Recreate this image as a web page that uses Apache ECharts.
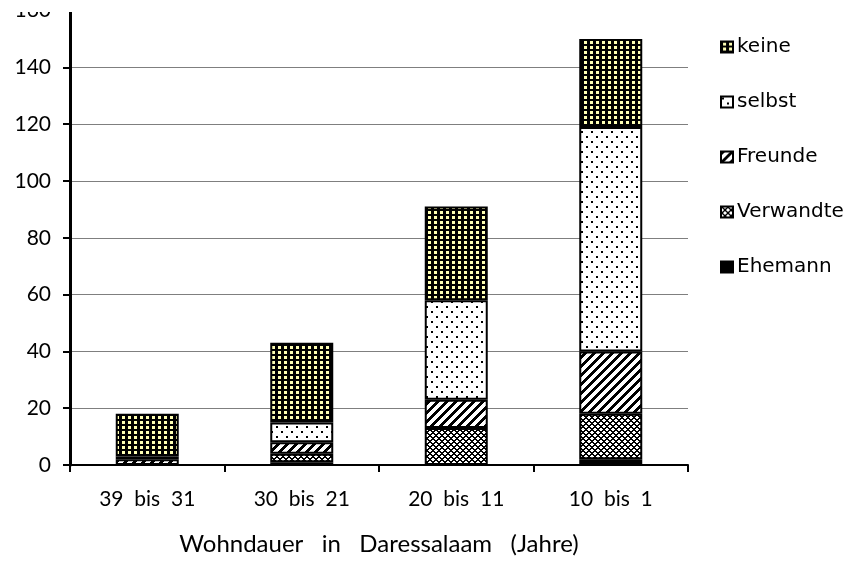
<!DOCTYPE html>
<html>
<head>
<meta charset="utf-8">
<script src="https://cdn.jsdelivr.net/npm/echarts@6/dist/echarts.min.js"></script>
<style>
  html, body { margin: 0; padding: 0; background: #fff; }
  #chart { width: 866px; height: 561px; }
</style>
</head>
<body>
<div id="chart"></div>
<script>
// Wohndauer-Klassen (x axis)
const categories = ['39  bis  31', '30  bis  21', '20  bis  11', '10  bis  1'];

// Stacked values per class, bottom to top
const ehemann   = [0, 1, 0, 2];
const verwandte = [0, 3, 13, 16];
const freunde   = [2, 4, 10, 22];
const selbst    = [1, 7, 35, 79];
const keine     = [15, 28, 33, 31];

// Legend entries, top to bottom
const legendOrder = ['keine', 'selbst', 'Freunde', 'Verwandte', 'Ehemann'];

// Value axis range
const yMin = 0, yMax = 160, yStep = 20;

const FONT = 'Lato, "Open Sans", sans-serif';
const LEGEND_FONT = '"DejaVu Sans", Lato, sans-serif';

// Build a repeating bitmap tile for a fill pattern
function tile(w, h, bg, fg, isFg) {
  const c = document.createElement('canvas');
  c.width = w; c.height = h;
  const ctx = c.getContext('2d');
  ctx.fillStyle = bg;
  ctx.fillRect(0, 0, w, h);
  ctx.fillStyle = fg;
  for (let y = 0; y < h; y++) {
    for (let x = 0; x < w; x++) {
      if (isFg(x, y)) ctx.fillRect(x, y, 1, 1);
    }
  }
  return { image: c, repeat: 'repeat' };
}

const patterns = {
  // black with pale yellow squares
  keine: tile(6, 5, '#000', '#FFFFB4', (x, y) => x >= 2 && x <= 4 && y >= 1 && y <= 3),
  // white with sparse black dots
  selbst: tile(10, 10, '#fff', '#000', (x, y) =>
    (x >= 1 && x <= 2 && y >= 1 && y <= 2) || (x >= 6 && x <= 7 && y >= 6 && y <= 7)),
  // wide diagonal stripes
  freunde: tile(9, 9, '#fff', '#000', (x, y) => (x + y) % 9 < 4),
  // small diagonal lattice
  verwandte: tile(6, 6, '#fff', '#000', (x, y) => (x + y) % 6 < 2 || (x - y + 6) % 6 < 2),
  ehemann: '#000'
};

function barSeries(name, data, fill) {
  return {
    name: name,
    type: 'bar',
    stack: 'total',
    barWidth: 63,
    data: data,
    itemStyle: { color: fill, borderColor: '#000', borderWidth: 2 },
    emphasis: { disabled: true }
  };
}

const chart = echarts.init(document.getElementById('chart'), null, { renderer: 'canvas' });

chart.setOption({
  animation: false,
  backgroundColor: '#fff',
  textStyle: { fontFamily: FONT, color: '#000' },
  grid: { left: 70, right: 178, top: 9, bottom: 96 },
  legend: {
    orient: 'vertical',
    left: 720,
    top: 37,
    padding: 0,
    itemWidth: 12,
    itemHeight: 11,
    itemGap: 35,
    icon: 'rect',
    selectedMode: false,
    data: legendOrder,
    textStyle: { fontFamily: LEGEND_FONT, fontSize: 20, color: '#000', padding: [0, 0, 0, -1] }
  },
  xAxis: {
    type: 'category',
    data: categories,
    axisLine: { lineStyle: { color: '#000', width: 2 } },
    axisTick: { show: true, length: 7, lineStyle: { color: '#000', width: 2 } },
    axisLabel: { fontFamily: FONT, fontSize: 21, color: '#000', margin: 24 },
    name: 'Wohndauer   in   Daressalaam   (Jahre)',
    nameLocation: 'middle',
    nameGap: 67,
    nameTextStyle: { fontFamily: FONT, fontSize: 24, color: '#000' }
  },
  yAxis: {
    type: 'value',
    min: yMin,
    max: yMax,
    interval: yStep,
    axisLine: { show: true, lineStyle: { color: '#000', width: 3 } },
    axisTick: { show: true, length: 7, lineStyle: { color: '#000', width: 2 } },
    axisLabel: { fontFamily: FONT, fontSize: 21, color: '#000', margin: 19 },
    splitLine: { show: true, lineStyle: { color: '#7f7f7f', width: 1 } }
  },
  graphic: [{
    type: 'rect',
    z: 100,
    shape: { x: 0, y: 0, width: 866, height: 12 },
    style: { fill: '#fff' }
  }],
  series: [
    barSeries('Ehemann', ehemann, patterns.ehemann),
    barSeries('Verwandte', verwandte, patterns.verwandte),
    barSeries('Freunde', freunde, patterns.freunde),
    barSeries('selbst', selbst, patterns.selbst),
    barSeries('keine', keine, patterns.keine)
  ]
});
</script>
</body>
</html>
